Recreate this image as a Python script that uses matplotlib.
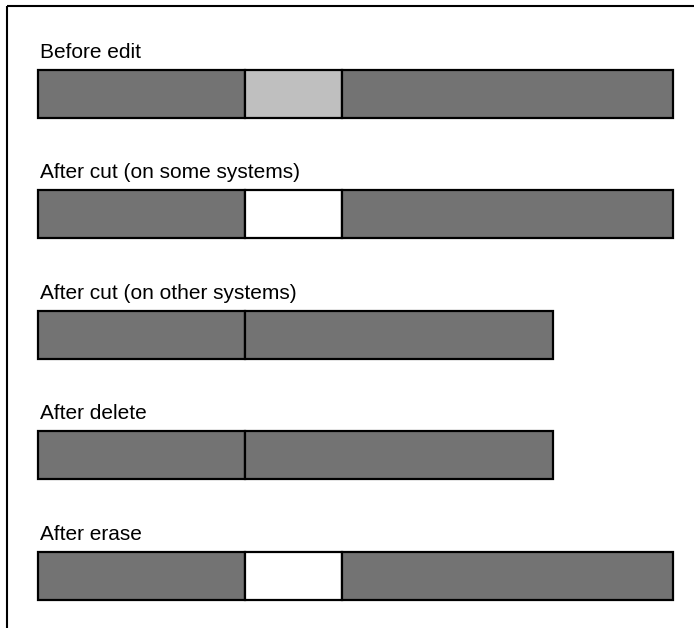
import matplotlib.pyplot as plt
from matplotlib import font_manager

# rows of the diagram: label and the segments (length, kind)
labels = ["Before edit", "After cut (on some systems)", "After cut (on other systems)",
          "After delete", "After erase"]
segments = [
    [(207, "data"), (97, "selected"), (331, "data")],
    [(207, "data"), (97, "gap"), (331, "data")],
    [(207, "data"), (308, "data")],
    [(207, "data"), (308, "data")],
    [(207, "data"), (97, "gap"), (331, "data")],
]
colors = {"data": "#737373", "selected": "#bfbfbf", "gap": "#ffffff"}

names = {f.name for f in font_manager.fontManager.ttflist}
family = ["Liberation Sans Narrow", "DejaVu Sans"] if "Liberation Sans Narrow" in names else ["Liberation Sans", "DejaVu Sans"]
plt.rcParams['font.family'] = family

fig = plt.figure(figsize=(6.94, 6.28), dpi=100)
ax = fig.add_axes([0, 0, 1, 1])
ax.set_xlim(-38, 656)
ax.set_ylim(628, 0)
ax.axis('off')

# frame on top and left
ax.plot([-31, 656], [6, 6], color='black', lw=1.5, solid_capstyle='butt')
ax.plot([-31, -31], [6, 628], color='black', lw=1.5, solid_capstyle='butt')

row_top = 69.5
row_step = 120.6
bar_h = 48
for i, (label, segs) in enumerate(zip(labels, segments)):
    top = row_top + i * row_step
    left = 0
    for length, kind in segs:
        ax.barh(top + bar_h / 2, length, left=left, height=bar_h,
                color=colors[kind], edgecolor='black', linewidth=1.6)
        left += length
    ax.text(2, top - 12, label, fontsize=15, ha='left', va='baseline')

fig.savefig('out.png', dpi=100)
